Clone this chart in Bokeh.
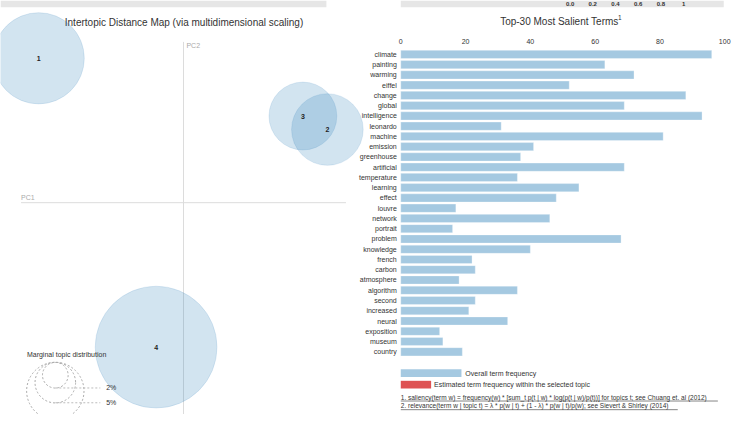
import math
from bokeh.plotting import figure
from bokeh.models import Range1d, LinearAxis, FixedTicker
from bokeh.embed import file_html
from bokeh.resources import INLINE
from bokeh.core.properties import value

# ---------------- data ----------------
topic_ids = ["1", "2", "3", "4"]
topic_pc1 = [-0.296, 0.294, 0.244, -0.056]
topic_pc2 = [0.300, 0.152, 0.180, -0.300]
topic_pct = [25.3, 15.6, 14.0, 45.1]          # marginal topic distribution (%)
legend_pct = [2, 5, 10]
legend_labels = ["2%", "5%", "10%"]

terms = ["climate", "painting", "warming", "eiffel", "change", "global", "intelligence",
         "leonardo", "machine", "emission", "greenhouse", "artificial", "temperature",
         "learning", "effect", "louvre", "network", "portrait", "problem", "knowledge",
         "french", "carbon", "atmosphere", "algorithm", "second", "increased", "neural",
         "exposition", "museum", "country"]
term_freq = [96, 63, 72, 52, 88, 69, 93, 31, 81, 41, 37, 69, 36, 55, 48, 17, 46, 16,
             68, 40, 22, 23, 18, 36, 23, 21, 33, 12, 13, 19]
freq_ticks = [0, 20, 40, 60, 80, 100]
lambda_values = [0.0, 0.2, 0.4, 0.6, 0.8, 1.0]
lambda_labels = ["0.0", "0.2", "0.4", "0.6", "0.8", "1"]

FONT = value("Liberation Sans")
TXT = "#333333"
BLUE = "#1f77b4"

# canvas (design space 750x430, drawn at 734x414)
W, H = 734, 414
DW, DH = 750, 430
RS = 0.97  # screen-size scale for radii

# left panel coordinate helpers (design px -> PC units)
PX_PER_PC = 500.0
ORIG_X, ORIG_Y = 187, 210
def sx(px): return (px - ORIG_X) / PX_PER_PC
def sy(py): return (ORIG_Y - py) / PX_PER_PC

# right panel helpers (design px -> bar units / row units)
X0_PX, PX_PER_UNIT = 409, 3.31
ROW0_PX, ROW_H = 56, 10.65
def rx(px): return (px - X0_PX) / PX_PER_UNIT
def ry(py): return (py - ROW0_PX) / ROW_H

p = figure(width=W, height=H, x_range=Range1d(rx(0), rx(DW)), y_range=Range1d(ry(DH), ry(0)),
           output_backend="svg", toolbar_location=None, min_border=0,
           x_axis_location=None, y_axis_location=None, outline_line_color=None, title=None)
p.extra_x_ranges = {"pc1": Range1d(sx(0), sx(DW))}
p.extra_y_ranges = {"pc2": Range1d(sy(DH), sy(0))}
p.xgrid.grid_line_color = None
p.ygrid.grid_line_color = None
L = dict(x_range_name="pc1", y_range_name="pc2")

# ---------------- left panel: intertopic distance map ----------------
K = 9.35  # design px per sqrt(percent)
topic_r = [K * math.sqrt(v) for v in topic_pct]
legend_r = [K * math.sqrt(v) for v in legend_pct]

p.quad(left=[sx(0)], right=[sx(333)], top=[sy(0)], bottom=[sy(7)],
       fill_color="#e6e6e6", line_color=None, **L)
p.text(x=[sx(187.5)], y=[sy(23)], text=["Intertopic Distance Map (via multidimensional scaling)"],
       text_align="center", text_baseline="middle", text_font=FONT,
       text_font_size="10px", text_color=TXT, **L)

p.segment(x0=[sx(21)], y0=[0], x1=[sx(353)], y1=[0], line_color="#dcdcdc", line_width=1, **L)
p.segment(x0=[0], y0=[sy(43)], x1=[0], y1=[sy(440)], line_color="#dcdcdc", line_width=1, **L)
p.text(x=[sx(21)], y=[sy(205)], text=["PC1"], text_align="left", text_baseline="middle",
       text_font=FONT, text_font_size="7px", text_color="#aaaaaa", **L)
p.text(x=[sx(190)], y=[sy(47)], text=["PC2"], text_align="left", text_baseline="middle",
       text_font=FONT, text_font_size="7px", text_color="#aaaaaa", **L)

p.circle(x=topic_pc1, y=topic_pc2, radius=[r * RS for r in topic_r], radius_units="screen",
         fill_color=BLUE, fill_alpha=0.2, line_color=BLUE, line_alpha=0.12, line_width=1, **L)
p.text(x=topic_pc1, y=topic_pc2, text=topic_ids, text_align="center", text_baseline="middle",
       text_font=FONT, text_font_size="7px", text_font_style="bold", text_color="#222222", **L)

LEG_TOP, LEG_CX = 376, 56
p.text(x=[sx(27)], y=[sy(368)], text=["Marginal topic distribution"], text_align="left",
       text_baseline="middle", text_font=FONT, text_font_size="7px", text_color=TXT, **L)
p.circle(x=[sx(LEG_CX)] * len(legend_r), y=[sy(LEG_TOP + r) for r in legend_r],
         radius=[r * RS for r in legend_r], radius_units="screen", fill_color=None,
         line_color="#aaaaaa", line_dash="2 2", line_width=1, **L)
vis = 2  # legend entries that fall inside the canvas
p.segment(x0=[sx(LEG_CX)] * vis, y0=[sy(LEG_TOP + 2 * r) for r in legend_r[:vis]],
          x1=[sx(102)] * vis, y1=[sy(LEG_TOP + 2 * r) for r in legend_r[:vis]],
          line_color="#bbbbbb", line_dash="2 2", line_width=1, **L)
p.text(x=[sx(108)] * vis, y=[sy(LEG_TOP + 2 * r) for r in legend_r[:vis]],
       text=legend_labels[:vis], text_align="left", text_baseline="middle", text_font=FONT,
       text_font_size="7px", text_color=TXT, **L)

# ---------------- right panel: salient terms ----------------
p.quad(left=[rx(409)], right=[rx(739)], top=[ry(0)], bottom=[ry(7)],
       fill_color="#e6e6e6", line_color=None)
p.text(x=[rx(582 + 116 * v) for v in lambda_values], y=[ry(3.5)] * len(lambda_values),
       text=lambda_labels, text_align="center", text_baseline="middle", text_font=FONT,
       text_font_size="6px", text_font_style="bold", text_color=TXT)

p.text(x=[rx(571)], y=[ry(22)], text=["Top-30 Most Salient Terms"], text_align="center",
       text_baseline="middle", text_font=FONT, text_font_size="10px", text_color=TXT)
p.text(x=[rx(631)], y=[ry(18)], text=["1"], text_align="left", text_baseline="middle",
       text_font=FONT, text_font_size="6.5px", text_color=TXT)

row_idx = list(range(len(terms)))
p.hbar(y=row_idx, left=0, right=term_freq, height=0.8, fill_color=BLUE, fill_alpha=0.4,
       line_color="white", line_alpha=0.6, line_width=0.5)

xaxis = LinearAxis(ticker=FixedTicker(ticks=freq_ticks), fixed_location=ry(47),
                   axis_line_color=None, major_tick_line_color=None,
                   major_tick_in=0, major_tick_out=0,
                   minor_tick_line_color=None, major_label_standoff=2,
                   major_label_text_font="Liberation Sans",
                   major_label_text_font_size="7px", major_label_text_color=TXT)
p.add_layout(xaxis, "above")
yaxis = LinearAxis(ticker=FixedTicker(ticks=row_idx), fixed_location=0,
                   major_label_overrides={i: t for i, t in enumerate(terms)},
                   axis_line_color=None, major_tick_line_color=None,
                   major_tick_in=0, major_tick_out=0,
                   minor_tick_line_color=None, major_label_standoff=4,
                   major_label_text_font="Liberation Sans",
                   major_label_text_font_size="7px", major_label_text_color=TXT)
p.add_layout(yaxis, "left")

p.quad(left=[rx(409)], right=[rx(471)], top=[ry(383)], bottom=[ry(391)],
       fill_color=BLUE, fill_alpha=0.4, line_color=None)
p.text(x=[rx(475)], y=[ry(387)], text=["Overall term frequency"], text_align="left",
       text_baseline="middle", text_font=FONT, text_font_size="7px", text_color=TXT)
p.quad(left=[rx(409)], right=[rx(440)], top=[ry(395)], bottom=[ry(403)],
       fill_color="#d62728", fill_alpha=0.8, line_color=None)
p.text(x=[rx(443)], y=[ry(399)], text=["Estimated term frequency within the selected topic"],
       text_align="left", text_baseline="middle", text_font=FONT, text_font_size="7px",
       text_color=TXT)

notes = ["1. saliency(term w) = frequency(w) * [sum_t p(t | w) * log(p(t | w)/p(t))] for topics t; see Chuang et. al (2012)",
         "2. relevance(term w | topic t) = \u03bb * p(w | t) + (1 - \u03bb) * p(w | t)/p(w); see Sievert & Shirley (2014)"]
note_y = [412, 421]
note_end = [733, 692]
p.text(x=[rx(409)] * 2, y=[ry(v) for v in note_y], text=notes, text_align="left",
       text_baseline="middle", text_font=FONT, text_font_size="6.5px", text_color=TXT)
p.segment(x0=[rx(409)] * 2, y0=[ry(v + 4) for v in note_y], x1=[rx(e) for e in note_end],
          y1=[ry(v + 4) for v in note_y], line_color=TXT, line_width=0.6)

open("out.html", "w").write(file_html(p, INLINE))
